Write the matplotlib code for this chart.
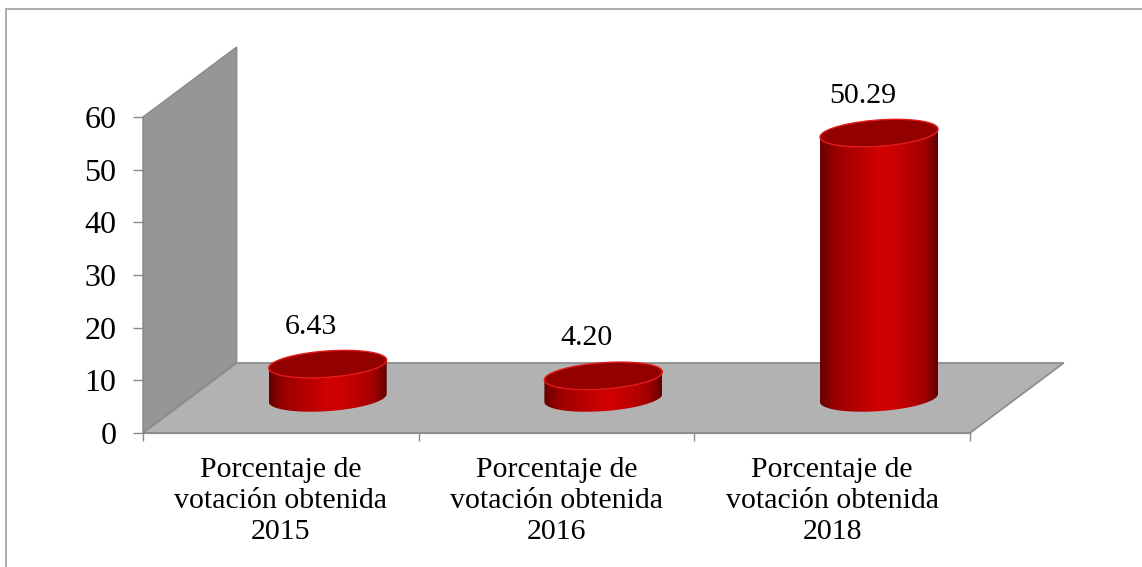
import numpy as np
import matplotlib.pyplot as plt
from matplotlib.patches import Polygon, Rectangle
from matplotlib.colors import LinearSegmentedColormap

categories = ["Porcentaje de\nvotación obtenida\n2015",
              "Porcentaje de\nvotación obtenida\n2016",
              "Porcentaje de\nvotación obtenida\n2018"]
values = [6.43, 4.20, 50.29]
value_labels = ["6.43", "4.20", "50.29"]
y_ticks = [0, 10, 20, 30, 40, 50, 60]

plt.rcParams['font.family'] = ['Liberation Serif', 'DejaVu Serif']

fig = plt.figure(figsize=(11.42, 5.67), dpi=100)
ax = fig.add_axes([143 / 1142, 134 / 567, 827 / 1142, 316 / 567])
ax.set_facecolor('none')

# depth of the fake 3d box, in data units
depth_x = 0.34
depth_y = 13.3
ymax = y_ticks[-1]
n = len(values)

wall = Polygon([(0, 0), (0, ymax), (depth_x, ymax + depth_y), (depth_x, depth_y)],
               closed=True, facecolor='#969696', edgecolor='#8a8a8a', lw=1,
               clip_on=False, zorder=0)
floor = Polygon([(0, 0), (n, 0), (n + depth_x, depth_y), (depth_x, depth_y)],
                closed=True, facecolor='#b2b2b2', edgecolor='#8a8a8a', lw=1.2,
                clip_on=False, zorder=0)
ax.add_patch(wall)
ax.add_patch(floor)

# cylinder shape
a = 0.214      # half width (x units)
b = 2.5        # half height of ellipse (y units)
shear = 3.55   # tilt of the ellipses

cmap = LinearSegmentedColormap.from_list('cyl', [
    (0.0, '#660000'), (0.12, '#990000'), (0.5, '#d00000'),
    (0.62, '#cc0000'), (0.88, '#a60000'), (1.0, '#640000')])


def ellipse(cx, cy, t):
    x = cx + a * np.cos(t)
    y = cy + b * np.sin(t) + shear * a * np.cos(t)
    return np.column_stack([x, y])


for i, v in enumerate(values):
    cx = i + 0.5 + depth_x / 2
    base = depth_y / 2
    top = base + v
    t_low = np.linspace(np.pi, 2 * np.pi, 80)
    body_pts = np.vstack([ellipse(cx, base, t_low), ellipse(cx, top, t_low[::-1])])
    body = Polygon(body_pts, closed=True, facecolor='none', edgecolor='none', zorder=3)
    ax.add_patch(body)
    grad = np.linspace(0, 1, 256).reshape(1, -1)
    im = ax.imshow(grad, cmap=cmap, aspect='auto', zorder=3,
                   extent=(cx - a, cx + a, base - b - 2, top + b + 2))
    im.set_clip_path(body)
    cap = Polygon(ellipse(cx, top, np.linspace(0, 2 * np.pi, 160)), closed=True,
                  facecolor='#930000', edgecolor='#e41a1a', lw=1, zorder=4)
    ax.add_patch(cap)
    ax.annotate(value_labels[i], xy=(cx, top), xytext=(-12, 27),
                textcoords='offset points', ha='center', va='center',
                fontsize=21.5, color='black', annotation_clip=False, zorder=5)

ax.set_xlim(0, n)
ax.set_ylim(0, ymax)

ax.set_yticks(y_ticks)
ax.tick_params(axis='y', direction='out', length=7, width=1, color='#8a8a8a',
               labelsize=23, pad=12)
ax.set_xticks(range(n + 1))
ax.set_xticklabels([])
ax.tick_params(axis='x', which='major', direction='out', length=6, width=1,
               color='#8a8a8a')
ax.set_xticks([i + 0.5 for i in range(n)], minor=True)
ax.set_xticklabels(categories, minor=True, fontsize=21.5, linespacing=1.25)
ax.tick_params(axis='x', which='minor', length=0, pad=17)

for side in ['top', 'right']:
    ax.spines[side].set_visible(False)
for side in ['left', 'bottom']:
    ax.spines[side].set_color('#8a8a8a')
    ax.spines[side].set_zorder(1)

# chart area border
fig.add_artist(Rectangle((6 / 1142, -0.05), 1.1, 1.05 - 9 / 567 + 0.0,
                         transform=fig.transFigure, fill=False,
                         edgecolor='#a0a0a0', lw=1.2))

fig.savefig('out.png', dpi=100)
